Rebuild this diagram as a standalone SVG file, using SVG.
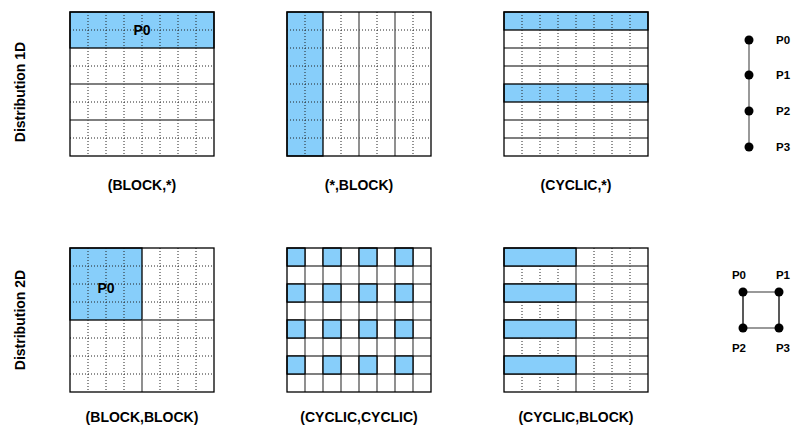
<svg xmlns="http://www.w3.org/2000/svg" width="794" height="428" viewBox="0 0 794 428">
<style>
text{font-family:"Liberation Sans",Arial,sans-serif;font-weight:bold;fill:#000}
.lbl{font-size:14px;text-anchor:middle}
.pl{font-size:11.5px}
.bg{fill:#fff}
.blue{fill:#87CEFA;stroke:#000;stroke-width:1.3}
.dot{stroke:#222;stroke-width:1;stroke-dasharray:1,2;fill:none}
.sol{stroke:#555;stroke-width:1.3;fill:none}
.out{fill:none;stroke:#000;stroke-width:1.3}
.edge{stroke:#777;stroke-width:1.5}
.edgek{stroke:#222;stroke-width:1.5}
.node{fill:#000}
</style>

<text class="lbl" transform="translate(25,92) rotate(-90)">Distribution 1D</text>
<text class="lbl" transform="translate(25,320) rotate(-90)">Distribution 2D</text>

<g id="g-block-star">
<rect class="bg" x="70" y="12" width="144" height="144"/>
<rect class="blue" x="70" y="12" width="144" height="36"/>
<path class="dot" d="M88 12V156M106 12V156M124 12V156M142 12V156M160 12V156M178 12V156M196 12V156M70 30H214M70 66H214M70 102H214M70 138H214"/>
<path class="sol" d="M70 84H214M70 120H214"/>
<rect class="out" x="70" y="12" width="144" height="144"/>
<text class="lbl" x="142" y="35">P0</text>
<text class="lbl" x="142" y="190">(BLOCK,*)</text>
</g>

<g id="g-star-block">
<rect class="bg" x="287" y="12" width="144" height="144"/>
<rect class="blue" x="287" y="12" width="36" height="144"/>
<path class="dot" d="M305 12V156M341 12V156M377 12V156M413 12V156M287 30H431M287 48H431M287 66H431M287 84H431M287 102H431M287 120H431M287 138H431"/>
<path class="sol" d="M359 12V156M395 12V156"/>
<rect class="out" x="287" y="12" width="144" height="144"/>
<text class="lbl" x="359" y="190">(*,BLOCK)</text>
</g>

<g id="g-cyclic-star">
<rect class="bg" x="504" y="12" width="144" height="144"/>
<rect class="blue" x="504" y="12" width="144" height="18"/>
<rect class="blue" x="504" y="84" width="144" height="18"/>
<path class="dot" d="M522 12V156M540 12V156M558 12V156M576 12V156M594 12V156M612 12V156M630 12V156"/>
<path class="sol" d="M504 48H648M504 66H648M504 120H648M504 138H648"/>
<rect class="out" x="504" y="12" width="144" height="144"/>
<text class="lbl" x="576" y="190">(CYCLIC,*)</text>
</g>

<g id="g-block-block">
<rect class="bg" x="70" y="248" width="144" height="144"/>
<rect class="blue" x="70" y="248" width="72" height="72"/>
<path class="dot" d="M88 248V392M106 248V392M124 248V392M160 248V392M178 248V392M196 248V392M70 266H214M70 284H214M70 302H214M70 338H214M70 356H214M70 374H214"/>
<path class="sol" d="M142 320V392M142 320H214"/>
<rect class="out" x="70" y="248" width="144" height="144"/>
<text class="lbl" x="106" y="293">P0</text>
<text class="lbl" x="142" y="422">(BLOCK,BLOCK)</text>
</g>

<g id="g-cyclic-cyclic">
<rect class="bg" x="287" y="248" width="144" height="144"/>
<path class="sol" d="M305 248V392M323 248V392M341 248V392M359 248V392M377 248V392M395 248V392M413 248V392M287 266H431M287 284H431M287 302H431M287 320H431M287 338H431M287 356H431M287 374H431"/>
<rect class="blue" x="287" y="248" width="18" height="18"/>
<rect class="blue" x="323" y="248" width="18" height="18"/>
<rect class="blue" x="359" y="248" width="18" height="18"/>
<rect class="blue" x="395" y="248" width="18" height="18"/>
<rect class="blue" x="287" y="284" width="18" height="18"/>
<rect class="blue" x="323" y="284" width="18" height="18"/>
<rect class="blue" x="359" y="284" width="18" height="18"/>
<rect class="blue" x="395" y="284" width="18" height="18"/>
<rect class="blue" x="287" y="320" width="18" height="18"/>
<rect class="blue" x="323" y="320" width="18" height="18"/>
<rect class="blue" x="359" y="320" width="18" height="18"/>
<rect class="blue" x="395" y="320" width="18" height="18"/>
<rect class="blue" x="287" y="356" width="18" height="18"/>
<rect class="blue" x="323" y="356" width="18" height="18"/>
<rect class="blue" x="359" y="356" width="18" height="18"/>
<rect class="blue" x="395" y="356" width="18" height="18"/>
<rect class="out" x="287" y="248" width="144" height="144"/>
<text class="lbl" x="359" y="422">(CYCLIC,CYCLIC)</text>
</g>

<g id="g-cyclic-block">
<rect class="bg" x="504" y="248" width="144" height="144"/>
<path class="dot" d="M522 248V392M540 248V392M558 248V392M594 248V392M612 248V392M630 248V392"/>
<path class="sol" d="M576 248V392M504 266H648M504 284H648M504 302H648M504 320H648M504 338H648M504 356H648M504 374H648"/>
<rect class="blue" x="504" y="248" width="72" height="18"/>
<rect class="blue" x="504" y="284" width="72" height="18"/>
<rect class="blue" x="504" y="320" width="72" height="18"/>
<rect class="blue" x="504" y="356" width="72" height="18"/>
<rect class="out" x="504" y="248" width="144" height="144"/>
<text class="lbl" x="576" y="422">(CYCLIC,BLOCK)</text>
</g>

<g id="connectors">
<line class="edge" x1="749" y1="40" x2="749" y2="147"/>
<line class="edge" x1="743" y1="292" x2="779" y2="292"/>
<line class="edge" x1="743" y1="328" x2="779" y2="328"/>
<line class="edgek" x1="743" y1="292" x2="743" y2="328"/>
<line class="edgek" x1="779" y1="292" x2="779" y2="328"/>
</g>

<g id="p1d-0"><circle class="node" cx="749" cy="40" r="4.5"/><text class="pl" x="776" y="44">P0</text></g>
<g id="p1d-1"><circle class="node" cx="749" cy="75" r="4.5"/><text class="pl" x="776" y="79">P1</text></g>
<g id="p1d-2"><circle class="node" cx="749" cy="111" r="4.5"/><text class="pl" x="776" y="115">P2</text></g>
<g id="p1d-3"><circle class="node" cx="749" cy="147" r="4.5"/><text class="pl" x="776" y="151">P3</text></g>

<g id="p2d-0"><circle class="node" cx="743" cy="292" r="4.5"/><text class="pl" x="739" y="279" text-anchor="middle">P0</text></g>
<g id="p2d-1"><circle class="node" cx="779" cy="292" r="4.5"/><text class="pl" x="783" y="279" text-anchor="middle">P1</text></g>
<g id="p2d-2"><circle class="node" cx="743" cy="328" r="4.5"/><text class="pl" x="739" y="352" text-anchor="middle">P2</text></g>
<g id="p2d-3"><circle class="node" cx="779" cy="328" r="4.5"/><text class="pl" x="783" y="352" text-anchor="middle">P3</text></g>
</svg>
